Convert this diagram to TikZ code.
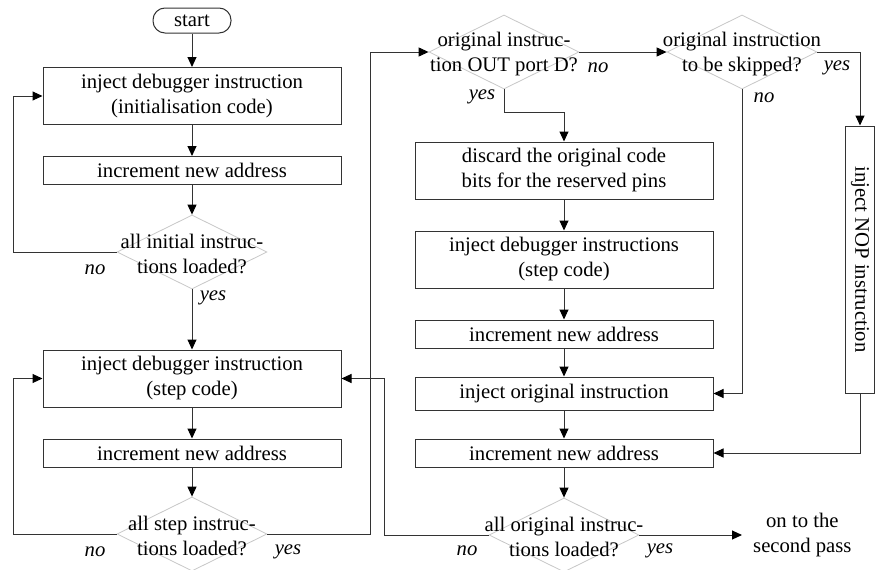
\documentclass[tikz,border=0pt]{standalone}
\usepackage{fontspec}
\setmainfont{Liberation Serif}
\usetikzlibrary{shapes.geometric,arrows.meta}
\newcommand{\chartfont}{\fontsize{20.7}{25}\selectfont}
\tikzset{
    flow-box/.style = {draw=black!80, line width=1pt, rectangle, minimum width=298pt, inner sep=0pt, align=center, font=\chartfont},
    tall-box/.style = {flow-box, minimum height=57pt},
    short-box/.style = {flow-box, minimum height=28pt},
    start-box/.style = {draw=black!80, line width=1pt, rectangle, rounded corners=12pt, minimum width=78pt, minimum height=25pt, inner sep=0pt, font=\chartfont},
    decision/.style = {draw=black!22, line width=0.8pt, diamond, minimum width=150pt, minimum height=74pt, inner sep=0pt},
    decision-text/.style = {align=center, font=\chartfont, inner sep=0pt},
    branch-label/.style = {font=\chartfont\itshape, inner sep=0pt},
    flow-line/.style = {draw=black!80, line width=1pt, -{Triangle[length=10pt,width=9pt,color=black]}},
}

\begin{document}
\begin{tikzpicture}[x=1pt, y=-1pt]
\useasboundingbox (0,0) rectangle (878,570);
\coordinate (left-rail) at (13,0);
\coordinate (up-rail) at (370,0);
\coordinate (back-rail) at (384,0);

\node[start-box] (start) at (192,20.5) {start};
\node[tall-box] (init-inject) at (192,96) {inject debugger instruction\\(initialisation code)};
\node[short-box] (init-incr) at (192,170.5) {increment new address};
\node[decision] (init-check) at (192,252) {};
\node[decision-text] at (192,254) {all initial instruc-\\tions loaded?};
\node[tall-box] (step-inject) at (192,378.5) {inject debugger instruction\\(step code)};
\node[short-box] (step-incr) at (192,453) {increment new address};
\node[decision] (step-check) at (192,534) {};
\node[decision-text] at (192,536) {all step instruc-\\tions loaded?};

\node[decision] (out-check) at (504,52) {};
\node[decision-text] at (504,54) {original instruc-\\tion OUT port D?};
\node[decision] (skip-check) at (742,52) {};
\node[decision-text] at (742,54) {original instruction\\to be skipped?};
\node[tall-box] (discard) at (564,170.5) {discard the original code\\bits for the reserved pins};
\node[tall-box] (orig-step) at (564,259.5) {inject debugger instructions\\(step code)};
\node[short-box] (orig-incr-a) at (564,334) {increment new address};
\node[flow-box, minimum height=33pt] (orig-inject) at (564,393.5) {inject original instruction};
\node[short-box] (orig-incr-b) at (564,453) {increment new address};
\node[decision] (all-check) at (564,535) {};
\node[decision-text] at (564,537) {all original instruc-\\tions loaded?};
\node[flow-box, rotate=-90, minimum width=267pt, minimum height=29pt] (nop) at (860,259.5) {inject NOP instruction};
\node[decision-text, anchor=west, inner xsep=11pt] (next-pass) at (742,535) {on to the\\second pass};

\node[branch-label] at (95,270) {no};
\node[branch-label] at (213,298) {yes};
\node[branch-label] at (95,552) {no};
\node[branch-label] at (288,552) {yes};
\node[branch-label] at (598,68) {no};
\node[branch-label] at (482,97) {yes};
\node[branch-label] at (837,68) {yes};
\node[branch-label] at (764,98) {no};
\node[branch-label] at (467,551) {no};
\node[branch-label] at (660,551) {yes};

\draw[flow-line] (start) -- (init-inject);
\draw[flow-line] (init-inject) -- (init-incr);
\draw[flow-line] (init-incr) -- (init-check);
\draw[flow-line] (init-check.west) -- (init-check.west -| left-rail) |- (init-inject.west);
\draw[flow-line] (init-check) -- (step-inject);
\draw[flow-line] (step-inject) -- (step-incr);
\draw[flow-line] (step-incr) -- (step-check);
\draw[flow-line] (step-check.west) -- (step-check.west -| left-rail) |- (step-inject.west);
\draw[flow-line] (step-check.east) -- (step-check.east -| up-rail) |- (out-check.west);
\draw[flow-line] (out-check.east) -- (skip-check.west);
\draw[flow-line] (out-check.south) -- +(0,23) -| (discard.north);
\draw[flow-line] (discard) -- (orig-step);
\draw[flow-line] (orig-step) -- (orig-incr-a);
\draw[flow-line] (orig-incr-a) -- (orig-inject);
\draw[flow-line] (orig-inject) -- (orig-incr-b);
\draw[flow-line] (orig-incr-b) -- (all-check);
\draw[flow-line] (skip-check.south) |- (orig-inject.east);
\draw[flow-line] (skip-check.east) -| (nop.west);
\draw[flow-line] (nop.east) |- (orig-incr-b.east);
\draw[flow-line] (all-check.east) -- (next-pass.west);
\draw[flow-line] (all-check.west) -- (all-check.west -| back-rail) |- (step-inject.east);
\end{tikzpicture}
\end{document}
